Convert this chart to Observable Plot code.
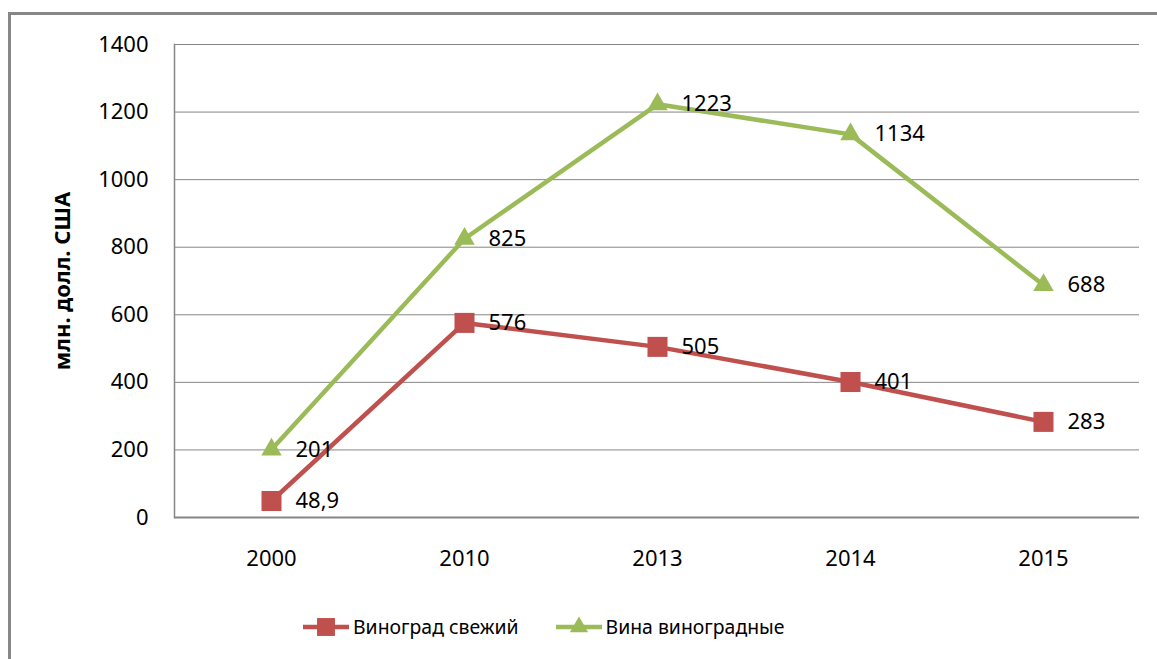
<!DOCTYPE html>
<html><head><meta charset="utf-8">
<script src="https://cdn.jsdelivr.net/npm/d3@7"></script>
<script src="https://cdn.jsdelivr.net/npm/@observablehq/plot@0.6"></script>
<style>
body{margin:0;background:#fff;font-family:"Noto Sans",sans-serif;}
#wrap{position:relative;width:1157px;height:659px;overflow:hidden;}
#frame{position:absolute;left:8px;top:12px;width:1200px;height:700px;border-left:3px solid #878787;border-top:3px solid #878787;}
#chart{position:absolute;left:0;top:0;}
#legend{position:absolute;top:613px;left:303px;display:flex;align-items:center;font-size:19.4px;color:#000;}
#legend .item{display:flex;align-items:center;}
#legend svg{display:block;margin-right:4px;}
</style></head>
<body><div id="wrap"><div id="frame"></div><div id="chart"></div><div id="legend"></div></div>
<script>
const years = ["2000", "2010", "2013", "2014", "2015"];
const grapes = [48.9, 576, 505, 401, 283];
const wines = [201, 825, 1223, 1134, 688];
const seriesNames = ["Виноград свежий", "Вина виноградные"];
const colors = ["#C0504D", "#9BBB59"];
const symbols = ["square", "triangle"];
const yTicks = [0, 200, 400, 600, 800, 1000, 1200, 1400];
const yTitle = "млн. долл. США";

const fmt = v => String(v).replace(".", ",");
const grapeRows = years.map((y, i) => ({year: y, value: grapes[i], series: seriesNames[0]}));
const wineRows = years.map((y, i) => ({year: y, value: wines[i], series: seriesNames[1]}));
const allRows = grapeRows.concat(wineRows);

const plot = Plot.plot({
  width: 1157, height: 600,
  marginTop: 44, marginLeft: 174, marginRight: 18, marginBottom: 83,
  style: {fontFamily: "'Noto Sans', sans-serif", fontSize: "22px", background: "transparent", color: "#000"},
  x: {type: "point", domain: years, padding: 0.5, label: null},
  y: {domain: [0, 1400], label: null},
  color: {domain: seriesNames, range: colors},
  marks: [
    Plot.gridY(yTicks, {stroke: "#868686", strokeOpacity: 1, strokeWidth: 1}),
    Plot.frame({anchor: "left", stroke: "#868686", strokeWidth: 1.5}),
    Plot.ruleY([0], {stroke: "#868686", strokeWidth: 2}),
    Plot.axisY(yTicks, {tickSize: 0, tickPadding: 26, label: null, fill: "#000", tickFormat: d => String(d)}),
    Plot.axisX({tickSize: 0, tickPadding: 33, label: null, fill: "#000"}),
    Plot.line(grapeRows, {x: "year", y: "value", stroke: colors[0], strokeWidth: 4.5}),
    Plot.line(wineRows, {x: "year", y: "value", stroke: colors[1], strokeWidth: 4.5}),
    Plot.dot(grapeRows, {x: "year", y: "value", symbol: symbols[0], r: 11.3, fill: colors[0], stroke: "none"}),
    Plot.dot(wineRows, {x: "year", y: "value", symbol: symbols[1], r: 7.6, fill: colors[1], stroke: "none"}),
    Plot.text(allRows, {x: "year", y: "value", text: d => fmt(d.value), dx: 24, textAnchor: "start", fill: "#000", fontSize: 22}),
    Plot.text([yTitle], {frameAnchor: "left", textAnchor: "middle", rotate: -90, dx: -112, fontWeight: "bold", fontSize: 22, fill: "#000"})
  ]
});
document.getElementById("chart").appendChild(plot);

// legend
const legend = document.getElementById("legend");
seriesNames.forEach((name, i) => {
  const item = document.createElement("div");
  item.className = "item";
  if (i > 0) item.style.marginLeft = "37px";
  const svg = d3.create("svg").attr("width", 46).attr("height", 24);
  svg.append("line").attr("x1", 0).attr("x2", 46).attr("y1", 12).attr("y2", 12)
    .attr("stroke", colors[i]).attr("stroke-width", 4.5);
  const size = i === 0 ? Math.PI * 11.3 * 11.3 * 0.8 : Math.PI * 7.6 * 7.6 * 0.8;
  svg.append("path").attr("transform", "translate(23,12)")
    .attr("d", d3.symbol(i === 0 ? d3.symbolSquare : d3.symbolTriangle, size)())
    .attr("fill", colors[i]);
  item.appendChild(svg.node());
  const span = document.createElement("span");
  span.textContent = name;
  item.appendChild(span);
  legend.appendChild(item);
});
</script>
</body></html>
